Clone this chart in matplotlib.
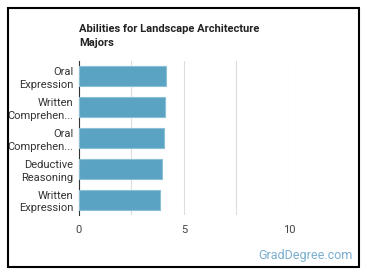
import matplotlib
matplotlib.use("Agg")
import matplotlib.pyplot as plt
from matplotlib.patches import Rectangle

abilities = ["Oral\nExpression", "Written\nComprehen...", "Oral\nComprehen...",
             "Deductive\nReasoning", "Written\nExpression"]
scores = [4.12, 4.09, 4.05, 3.95, 3.88]
xticks = [0, 5, 10]

plt.rcParams['font.family'] = ['Roboto', 'DejaVu Sans']

fig = plt.figure(figsize=(3.7, 2.78), dpi=100)
ax = fig.add_axes([0.2135, 0.2266, 0.5675, 0.554])

ypos = list(range(len(abilities)))
ax.barh(ypos, scores, height=0.65, color="#5ba3c2", edgecolor="#8cc0d8", linewidth=0.8, zorder=3)
ax.set_ylim(len(abilities) - 0.5, -0.5)
ax.set_xlim(0, 10)
ax.set_yticks(ypos)
ax.set_yticklabels(abilities, fontsize=8, color="#333333", linespacing=1.35)
ax.set_xticks(xticks)
ax.set_xticklabels([str(t) for t in xticks], fontsize=8, color="#444444")
ax.set_xticks([2.5, 7.5], minor=True)
ax.grid(axis="x", which="both", color="#dddddd", linewidth=0.8, zorder=0)
ax.tick_params(axis="both", which="both", length=0, pad=4)
ax.tick_params(axis="x", pad=7)
for side in ["top", "right", "bottom"]:
    ax.spines[side].set_visible(False)
ax.spines["left"].set_color("#333333")
ax.spines["left"].set_linewidth(0.8)

fig.text(0.2135, 0.872, "Abilities for Landscape Architecture\nMajors", fontsize=8,
         fontweight="bold", color="#222222", va="center", ha="left", linespacing=1.5)
fig.text(0.954, 0.08, "GradDegree.com", fontsize=9, color="#7aaed0", ha="right", va="center")

# black frame round the whole chart
fig.patches.append(Rectangle((0.022, 0.04), 0.948, 0.93, transform=fig.transFigure,
                             fill=False, edgecolor="black", linewidth=1.5))

fig.savefig("out.png", dpi=100)
